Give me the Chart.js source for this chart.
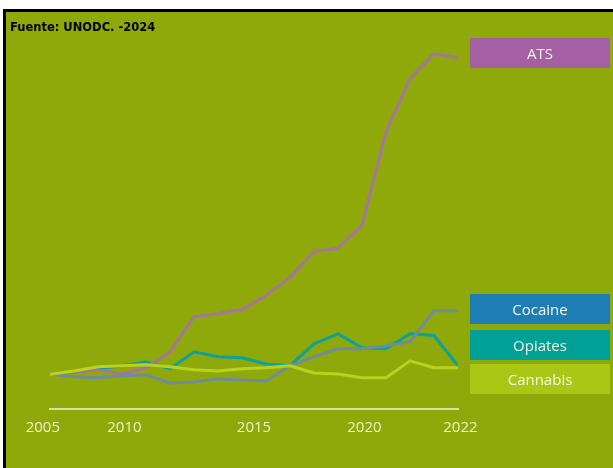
<!DOCTYPE html>
<html>
<head>
<meta charset="utf-8">
<script src="https://cdn.jsdelivr.net/npm/chart.js@4.4.1/dist/chart.umd.min.js"></script>
<style>
  html, body { margin: 0; padding: 0; background: #ffffff; width: 613px; height: 468px; overflow: hidden; }
  #frame { position: absolute; left: 3px; top: 9px; width: 620px; height: 470px;
           border-left: 3px solid #000; border-top: 3px solid #000; background: rgb(143,168,10); }
  #source { position: absolute; left: 10px; top: 20px; font-family: "DejaVu Sans", sans-serif;
            font-weight: bold; font-size: 11.5px; color: #000; white-space: nowrap; z-index: 3; }
  #wrap { position: absolute; left: 0; top: 0; width: 613px; height: 468px; z-index: 2; }
</style>
</head>
<body>
<div id="frame"></div>
<div id="source">Fuente: UNODC. -2024</div>
<div id="wrap"><canvas id="c" width="613" height="468"></canvas></div>
<script>
// ---- data (index, 2005 = 100) ----
const years    = [2005,2006,2007,2008,2009,2010,2011,2012,2013,2014,2015,2016,2017,2018,2019,2020,2021,2022];
const ats      = [100,107,113,101,119,165,267,275,287,328,380,455,464,530,800,954,1026,1014];
const cocaine  = [100,93,90,96,99,75,78,87,84,81,125,151,174,174,183,194,284,284];
const opiates  = [100,107,116,125,136,116,165,151,148,130,125,188,217,177,174,217,212,125];
const cannabis = [100,110,122,125,128,122,113,110,116,119,125,104,101,90,90,139,119,119];
const tickLabels = ['2005','2010','2015','2020','2022'];

// where the original picture prints its year labels (layout, in axis units)
const labelSpots = [2004.7, 2008.1, 2013.5, 2018.1, 2022.1];

const pts = arr => arr.map((v, i) => ({ x: years[i], y: v }));

const boxStyle = {
  'ATS':      { y: 38,  color: '#a55fa3' },
  'Cocaine':  { y: 294, color: '#1f7db5' },
  'Opiates':  { y: 330, color: '#00a096' },
  'Cannabis': { y: 364, color: '#abc716' }
};

const boxLegend = {
  id: 'boxLegend',
  afterDraw(chart) {
    const ctx = chart.ctx;
    ctx.save();
    chart.data.datasets.forEach(ds => {
      const s = boxStyle[ds.label];
      if (!s) return;
      ctx.fillStyle = s.color;
      ctx.fillRect(470, s.y, 140, 30);
      ctx.fillStyle = '#f2f5e2';
      ctx.font = '15px "Open Sans", sans-serif';
      ctx.textAlign = 'center';
      ctx.textBaseline = 'middle';
      ctx.fillText(ds.label, 540, s.y + 16.5);
    });
    ctx.restore();
  }
};

new Chart(document.getElementById('c'), {
  type: 'line',
  data: {
    datasets: [
      { label: 'ATS',      data: pts(ats),      borderColor: '#a574a1', order: 3 },
      { label: 'Cocaine',  data: pts(cocaine),  borderColor: '#6e8c9e', order: 2 },
      { label: 'Opiates',  data: pts(opiates),  borderColor: '#0aa39b', order: 4 },
      { label: 'Cannabis', data: pts(cannabis), borderColor: '#b9d21e', order: 1 }
    ]
  },
  options: {
    responsive: false,
    animation: false,
    events: [],
    layout: { padding: { left: 50, right: 155, top: 28, bottom: 21 } },
    elements: {
      line: { borderWidth: 3, tension: 0, fill: false, borderCapStyle: 'round', borderJoinStyle: 'round' },
      point: { radius: 0 }
    },
    plugins: { legend: { display: false }, tooltip: { enabled: false }, title: { display: false } },
    scales: {
      x: {
        type: 'linear', min: years[0], max: years[years.length - 1],
        grid: { display: false, drawTicks: false },
        border: { display: true, color: '#dbe0a0', width: 2 },
        ticks: { display: false }
      },
      xl: {
        type: 'linear', position: 'bottom', axis: 'x',
        min: years[0], max: years[years.length - 1],
        grid: { display: false, drawTicks: false },
        border: { display: false },
        afterBuildTicks: axis => { axis.ticks = labelSpots.map(v => ({ value: v })); },
        afterFit: axis => { axis.paddingLeft = 0; axis.paddingRight = 0; },
        ticks: {
          autoSkip: false, maxRotation: 0, padding: 10,
          color: '#eef0c6',
          font: { family: '"Open Sans", sans-serif', size: 15 },
          callback: (v, i) => tickLabels[i]
        }
      },
      y: { display: false, min: 0, max: 1100 }
    }
  },
  plugins: [boxLegend]
});
</script>
</body>
</html>
